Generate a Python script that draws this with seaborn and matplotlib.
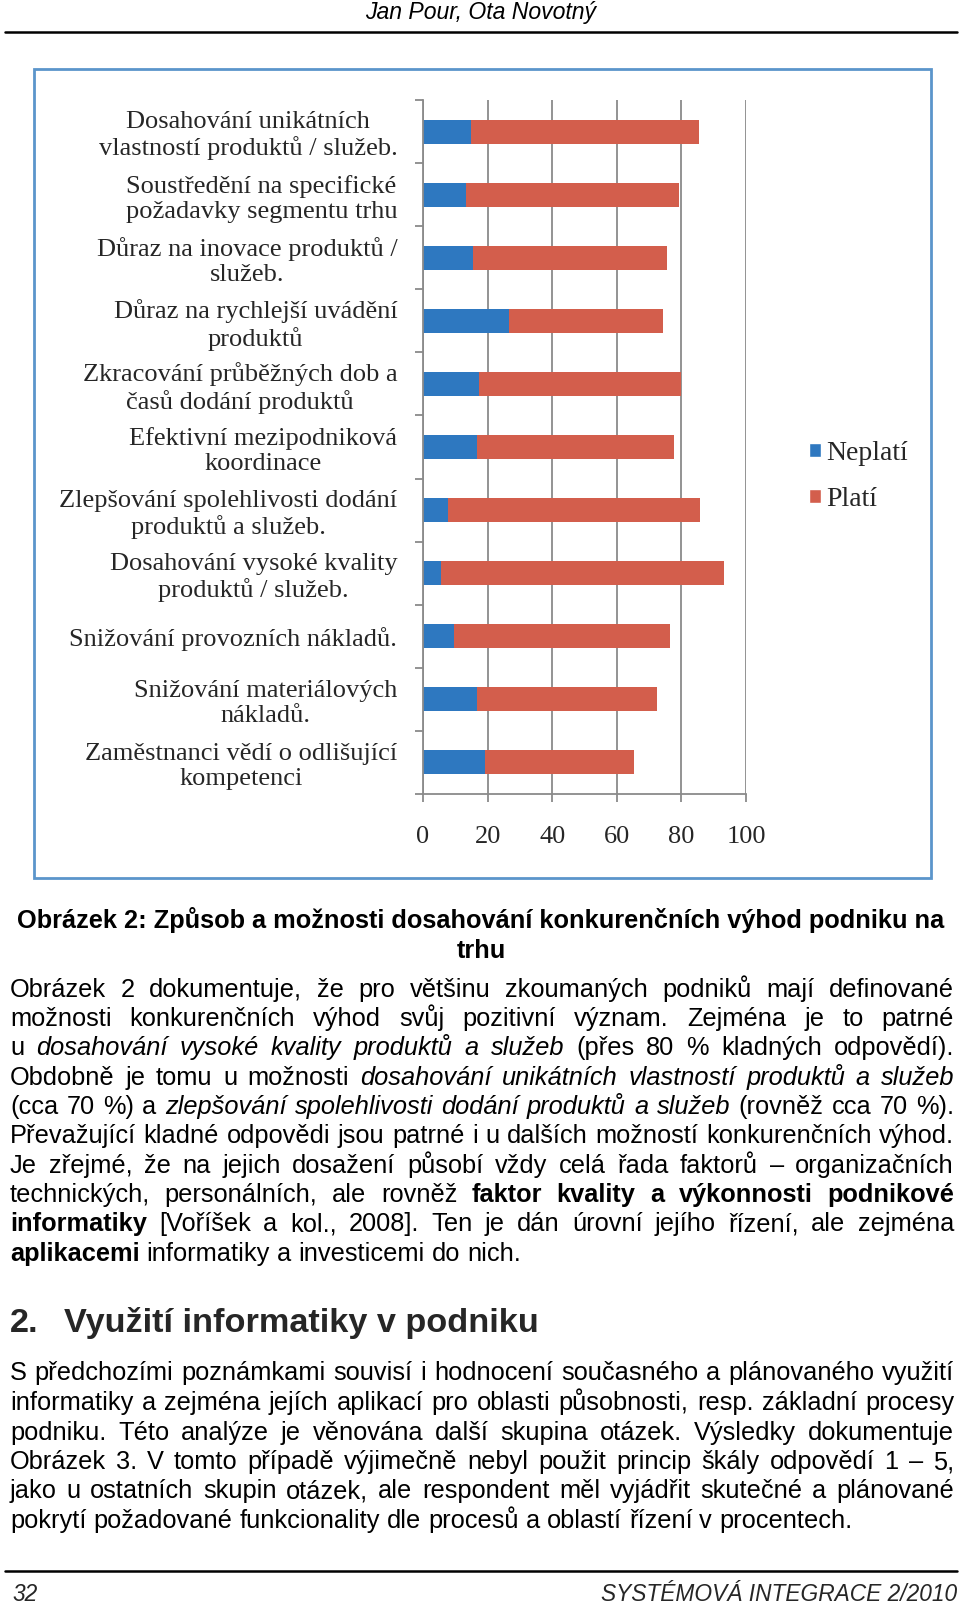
import numpy as np
import pandas as pd
import seaborn as sns
import matplotlib
matplotlib.use("Agg")
import matplotlib.pyplot as plt
from matplotlib import font_manager as fm
from matplotlib.patches import Patch, Rectangle
from matplotlib.lines import Line2D

# ---------------- data ----------------
categories = [
    "Dosahování unikátních\nvlastností produktů / služeb.",
    "Soustředění na specifické\npožadavky segmentu trhu",
    "Důraz na inovace produktů /\nslužeb.",
    "Důraz na rychlejší uvádění\nproduktů",
    "Zkracování průběžných dob a\nčasů dodání produktů",
    "Efektivní mezipodniková\nkoordinace",
    "Zlepšování spolehlivosti dodání\nproduktů a služeb.",
    "Dosahování vysoké kvality\nproduktů / služeb.",
    "Snižování provozních nákladů.",
    "Snižování materiálových\nnákladů.",
    "Zaměstnanci vědí o odlišující\nkompetenci",
]
neplati = [15.0, 13.3, 15.4, 26.5, 17.2, 16.6, 7.8, 5.7, 9.6, 16.7, 19.3]
plati = [70.3, 66.1, 60.2, 47.8, 62.8, 61.1, 77.9, 87.6, 66.8, 55.9, 46.1]
series_names = ["Neplatí", "Platí"]
x_ticks = [0, 20, 40, 60, 80, 100]

header_text = "Jan Pour, Ota Novotný"
footer_left = "32"
footer_right = "SYSTÉMOVÁ INTEGRACE 2/2010"
caption_lines = ["Obrázek 2: Způsob a možnosti dosahování konkurenčních výhod podniku na", "trhu"]
para1 = [
    [("n", "Obrázek 2 dokumentuje, že pro většinu zkoumaných podniků mají definované")],
    [("n", "možnosti konkurenčních výhod svůj pozitivní význam. Zejména je to patrné")],
    [("n", "u"), ("i", "dosahování vysoké kvality produktů a služeb"), ("n", "(přes 80 % kladných odpovědí).")],
    [("n", "Obdobně je tomu u možnosti"), ("i", "dosahování unikátních vlastností produktů a služeb")],
    [("n", "(cca 70 %) a"), ("i", "zlepšování spolehlivosti dodání produktů a služeb"), ("n", "(rovněž cca 70 %).")],
    [("n", "Převažující kladné odpovědi jsou patrné i u dalších možností konkurenčních výhod.")],
    [("n", "Je zřejmé, že na jejich dosažení působí vždy celá řada faktorů – organizačních")],
    [("n", "technických, personálních, ale rovněž"), ("b", "faktor kvality a výkonnosti podnikové")],
    [("b", "informatiky"), ("n", "[Voříšek a kol., 2008]. Ten je dán úrovní jejího řízení, ale zejména")],
    [("b", "aplikacemi"), ("n", "informatiky a investicemi do nich.")],
]
heading_num = "2."
heading_text = "Využití informatiky v podniku"
para2 = [
    [("n", "S předchozími poznámkami souvisí i hodnocení současného a plánovaného využití")],
    [("n", "informatiky a zejména jejích aplikací pro oblasti působnosti, resp. základní procesy")],
    [("n", "podniku. Této analýze je věnována další skupina otázek. Výsledky dokumentuje")],
    [("n", "Obrázek 3. V tomto případě výjimečně nebyl použit princip škály odpovědí 1 – 5,")],
    [("n", "jako u ostatních skupin otázek, ale respondent měl vyjádřit skutečné a plánované")],
    [("n", "pokrytí požadované funkcionality dle procesů a oblastí řízení v procentech.")],
]

# ---------------- setup ----------------
W, H = 960, 1604
sns.set_theme(style="white")
plt.rcParams["font.family"] = ["Liberation Serif", "DejaVu Serif"]
names = {f.name for f in fm.fontManager.ttflist}
SANS = "Liberation Sans Narrow" if "Liberation Sans Narrow" in names else "Liberation Sans"

fig = plt.figure(figsize=(W / 100, H / 100), dpi=100)
fig.patch.set_facecolor("white")
renderer = fig.canvas.get_renderer()


def fx(x):
    return x / W


def fy(y):
    return 1 - y / H


BLUE = "#2e78c0"
RED = "#d35e4c"
GRID = "#8a8a8a"
FRAME = "#5b95cb"
SERIF_SIZE = 19

# ---------------- chart ----------------
ax = fig.add_axes([fx(423), fy(794), (746 - 423) / W, (794 - 100) / H])
df = pd.DataFrame({"cat": categories, "neplati": neplati, "plati": plati})
df["total"] = df["neplati"] + df["plati"]
sns.barplot(data=df, y="cat", x="total", color=RED, width=0.38, saturation=1,
            errorbar=None, orient="h", ax=ax, linewidth=0)
sns.barplot(data=df, y="cat", x="neplati", color=BLUE, width=0.38, saturation=1,
            errorbar=None, orient="h", ax=ax, linewidth=0)
ax.set_xlim(0, 100)
ax.set_ylim(len(categories) - 0.5, -0.5)
ax.set_xlabel("")
ax.set_ylabel("")
ax.set_facecolor("white")
ax.set_xticks(x_ticks)
ax.set_xticklabels([str(t) for t in x_ticks], fontsize=SERIF_SIZE)
ax.xaxis.grid(True, color=GRID, lw=1.3)
ax.yaxis.grid(False)
ax.set_axisbelow(True)
for s in ["top", "right"]:
    ax.spines[s].set_visible(False)
for s in ["left", "bottom"]:
    ax.spines[s].set_color(GRID)
    ax.spines[s].set_linewidth(1.3)
ax.set_yticks(range(len(categories)))
ax.set_yticklabels(categories, fontsize=SERIF_SIZE, linespacing=1.17, multialignment="center")
ax.set_yticks(np.arange(-0.5, len(categories), 1.0), minor=True)
ax.tick_params(axis="y", which="major", length=0, pad=18.5)
ax.tick_params(axis="y", which="minor", length=6, width=1.3, color=GRID, direction="out", left=True)
ax.tick_params(axis="x", which="major", length=6, width=1.3, color=GRID, direction="out",
               bottom=True, pad=17)

handles = [Patch(facecolor=BLUE, label=series_names[0]), Patch(facecolor=RED, label=series_names[1])]
fig.legend(handles=handles, loc="upper left", bbox_to_anchor=(fx(809), fy(441)), frameon=False,
           fontsize=20, handlelength=0.42, handleheight=0.42, handletextpad=0.2,
           labelspacing=0.75, borderpad=0, borderaxespad=0)

fig.add_artist(Rectangle((fx(34), fy(878)), (931 - 34) / W, (878 - 69) / H, transform=fig.transFigure,
                         fill=False, ec=FRAME, lw=2.0))

# ---------------- page text ----------------
STY = {"n": ("normal", "normal"), "i": ("normal", "italic"), "b": ("bold", "normal")}


def width(s, size, sty="n", family=None):
    w_, st_ = STY[sty]
    t = fig.text(0, 0, s, fontsize=size, fontweight=w_, fontstyle=st_, family=family or [SANS, "DejaVu Sans"])
    w = t.get_window_extent(renderer).width
    t.remove()
    return w


def words_of(line):
    out = []
    for sty, txt in line:
        for wd in txt.split(" "):
            if wd:
                out.append((sty, wd))
    return out


def natural_width(line, size):
    ws = words_of(line)
    sp = width("x x", size) - width("xx", size)
    return sum(width(w, size, s) for s, w in ws) + sp * (len(ws) - 1)


# fit body size
s0 = 12.0
r1 = 842 / natural_width(para2[-1], s0)
r2 = 510 / natural_width(para1[-1], s0)
BODY = s0 * (r1 + r2) / 2
BODY_PX = BODY * 100 / 72


def draw_line(line, yc, x0=10, x1=954, justify=True, size=None):
    size = size or BODY
    px = size * 100 / 72
    ws = words_of(line)
    wl = [width(w, size, s) for s, w in ws]
    if justify and len(ws) > 1:
        gap = (x1 - x0 - sum(wl)) / (len(ws) - 1)
    else:
        gap = width("x x", size) - width("xx", size)
    x = x0
    base = yc + 0.36 * px
    for (s, w), wd in zip(ws, wl):
        fw, fs = STY[s]
        fig.text(fx(x), fy(base), w, fontsize=size, fontweight=fw, fontstyle=fs,
                 family=[SANS, "DejaVu Sans"], va="baseline", ha="left", color="black")
        x += wd + gap


def draw_centered(s, yc, xc, size, sty="n"):
    px = size * 100 / 72
    fw, fs = STY[sty]
    fig.text(fx(xc), fy(yc + 0.36 * px), s, fontsize=size, fontweight=fw, fontstyle=fs,
             family=[SANS, "DejaVu Sans"], va="baseline", ha="center", color="black")


# header / footer
hsize = s0 * 231 / width(header_text, s0, "i")
draw_centered(header_text, 11, 481, hsize, "i")
fig.add_artist(Line2D([fx(5), fx(957)], [fy(32), fy(32)], color="black", lw=1.8, transform=fig.transFigure))
fig.add_artist(Line2D([fx(5), fx(957)], [fy(1571), fy(1571)], color="black", lw=1.8, transform=fig.transFigure))
fsize = s0 * 356 / width(footer_right, s0, "i")
fig.text(fx(12), fy(1593 + 0.36 * fsize * 100 / 72), footer_left, fontsize=fsize, fontstyle="italic",
         family=[SANS, "DejaVu Sans"], va="baseline", ha="left")
fig.text(fx(957), fy(1593 + 0.36 * fsize * 100 / 72), footer_right, fontsize=fsize, fontstyle="italic",
         family=[SANS, "DejaVu Sans"], va="baseline", ha="right")

# caption
cap_y = [919, 949]
for s, y in zip(caption_lines, cap_y):
    draw_centered(s, y, 481, BODY, "b")

p1_y = [988, 1017, 1046, 1076, 1105, 1134, 1164, 1193, 1222, 1252]
for i, (line, y) in enumerate(zip(para1, p1_y)):
    draw_line(line, y, justify=(i < len(para1) - 1))

# heading
hd = s0 * 471 / width(heading_text, s0, "b")
hpx = hd * 100 / 72
fig.text(fx(10), fy(1320 + 0.36 * hpx), heading_num, fontsize=hd, fontweight="bold",
         family=[SANS, "DejaVu Sans"], va="baseline", ha="left")
fig.text(fx(64.5), fy(1320 + 0.36 * hpx), heading_text, fontsize=hd, fontweight="bold",
         family=[SANS, "DejaVu Sans"], va="baseline", ha="left")

p2_y = [1371, 1401, 1431, 1460, 1489, 1519]
for i, (line, y) in enumerate(zip(para2, p2_y)):
    draw_line(line, y, justify=(i < len(para2) - 1))

fig.savefig("out.png", dpi=100, facecolor="white")
